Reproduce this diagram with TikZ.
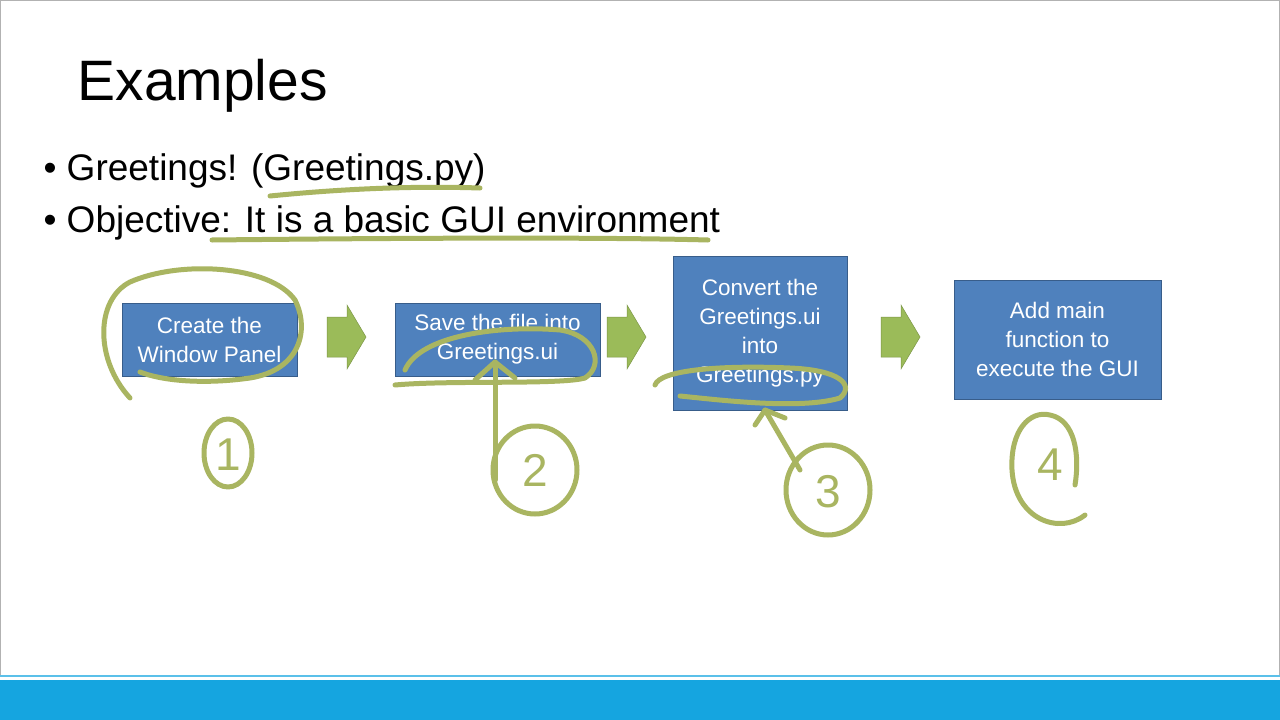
\documentclass[tikz,border=0pt]{standalone}
\usepackage{fontspec}
\setmainfont{Liberation Sans}
\definecolor{boxblue}{HTML}{4F81BD}
\definecolor{boxedge}{HTML}{385D8A}
\definecolor{arrgreen}{HTML}{9BBB59}
\definecolor{ink}{HTML}{A9B561}
\definecolor{band}{HTML}{15A5E0}
\begin{document}
\begin{tikzpicture}[x=1pt,y=-1pt,
  stepbox/.style={draw=boxedge,line width=1pt,fill=boxblue,text=white,align=center,font=\fontsize{22.5}{29}\selectfont,inner sep=0pt},
  blockarrow/.style={fill=arrgreen,draw=arrgreen!80!black,line width=0.5pt},
  pen/.style={draw=ink,line width=5pt,line cap=round,line join=round},
  digit/.style={text=ink,font=\fontsize{46}{46}\selectfont}]
\useasboundingbox (0,0) rectangle (1280,720);
\fill[white] (0,0) rectangle (1280,720);
\draw[gray!60,line width=1pt] (0.5,0.5) rectangle (1279.5,676);
\fill[band] (0,680) rectangle (1280,720);
\draw[band!70!white,line width=1.5pt] (0,676) -- (1280,676);
\node[anchor=base west,font=\fontsize{57}{60}\selectfont] (title) at (74,100) {Examples};
\node[anchor=base west,font=\fontsize{37}{40}\selectfont] (b1) at (40,180) {• Greetings! (Greetings.py)};
\node[anchor=base west,font=\fontsize{37}{40}\selectfont] (b2) at (40,232) {• Objective: It is a basic GUI environment};
\node[stepbox,minimum width=175pt,minimum height=73pt] (s1) at (209.5,339.5) {Create the\\Window Panel};
\node[stepbox,minimum width=205pt,minimum height=73pt] (s2) at (497.5,339.5) {Save the file into\\Greetings.ui};
\node[stepbox,minimum width=174pt,minimum height=154pt] (s3) at (760,333) {Convert the\\Greetings.ui\\into\\Greetings.py};
\node[stepbox,minimum width=207pt,minimum height=119pt] (s4) at (1057.5,339.5) {Add main\\function to\\execute the GUI};
\foreach \x in {327,607,881}{
  \draw[blockarrow] (\x,317) -- ++(20,0) -- ++(0,-12) -- ++(19,32) -- ++(-19,32) -- ++(0,-12) -- ++(-20,0) -- cycle;
}
% handwriting
\draw[pen] (270,196) .. controls (350,188) and (420,186) .. (480,188);
\draw[pen] (212,240) .. controls (400,238) and (600,237) .. (708,240);
\draw[pen] (130,398) .. controls (95,360) and (95,300) .. (130,282) .. controls (180,260) and (270,265) .. (295,300) .. controls (310,330) and (300,370) .. (250,378) .. controls (200,385) and (160,380) .. (140,372);
\draw[pen] (395,385) .. controls (450,380) and (560,385) .. (585,378) .. controls (605,365) and (595,335) .. (560,330) .. controls (500,325) and (420,335) .. (405,370);
\draw[pen] (495,480) -- (495,362);
\draw[pen] (475,380) -- (495,362) -- (515,378);
\draw[pen] (655,385) .. controls (660,370) and (720,365) .. (790,368) .. controls (840,370) and (855,385) .. (840,398) .. controls (800,410) and (720,400) .. (680,396);
\draw[pen] (800,470) -- (765,410);
\draw[pen] (755,425) -- (765,410) -- (785,418);
\draw[pen] (228,453) ellipse (24pt and 34pt);
\node[digit] (d1) at (228,455) {1};
\draw[pen] (535,470) ellipse (42pt and 44pt);
\node[digit] (d2) at (535,470) {2};
\draw[pen] (828,490) ellipse (42pt and 45pt);
\node[digit] (d3) at (828,492) {3};
\draw[pen] (1085,515) .. controls (1060,535) and (1015,520) .. (1012,470) .. controls (1010,430) and (1030,410) .. (1050,415) .. controls (1075,420) and (1080,455) .. (1075,485);
\node[digit] (d4) at (1050,465) {4};
\end{tikzpicture}
\end{document}
